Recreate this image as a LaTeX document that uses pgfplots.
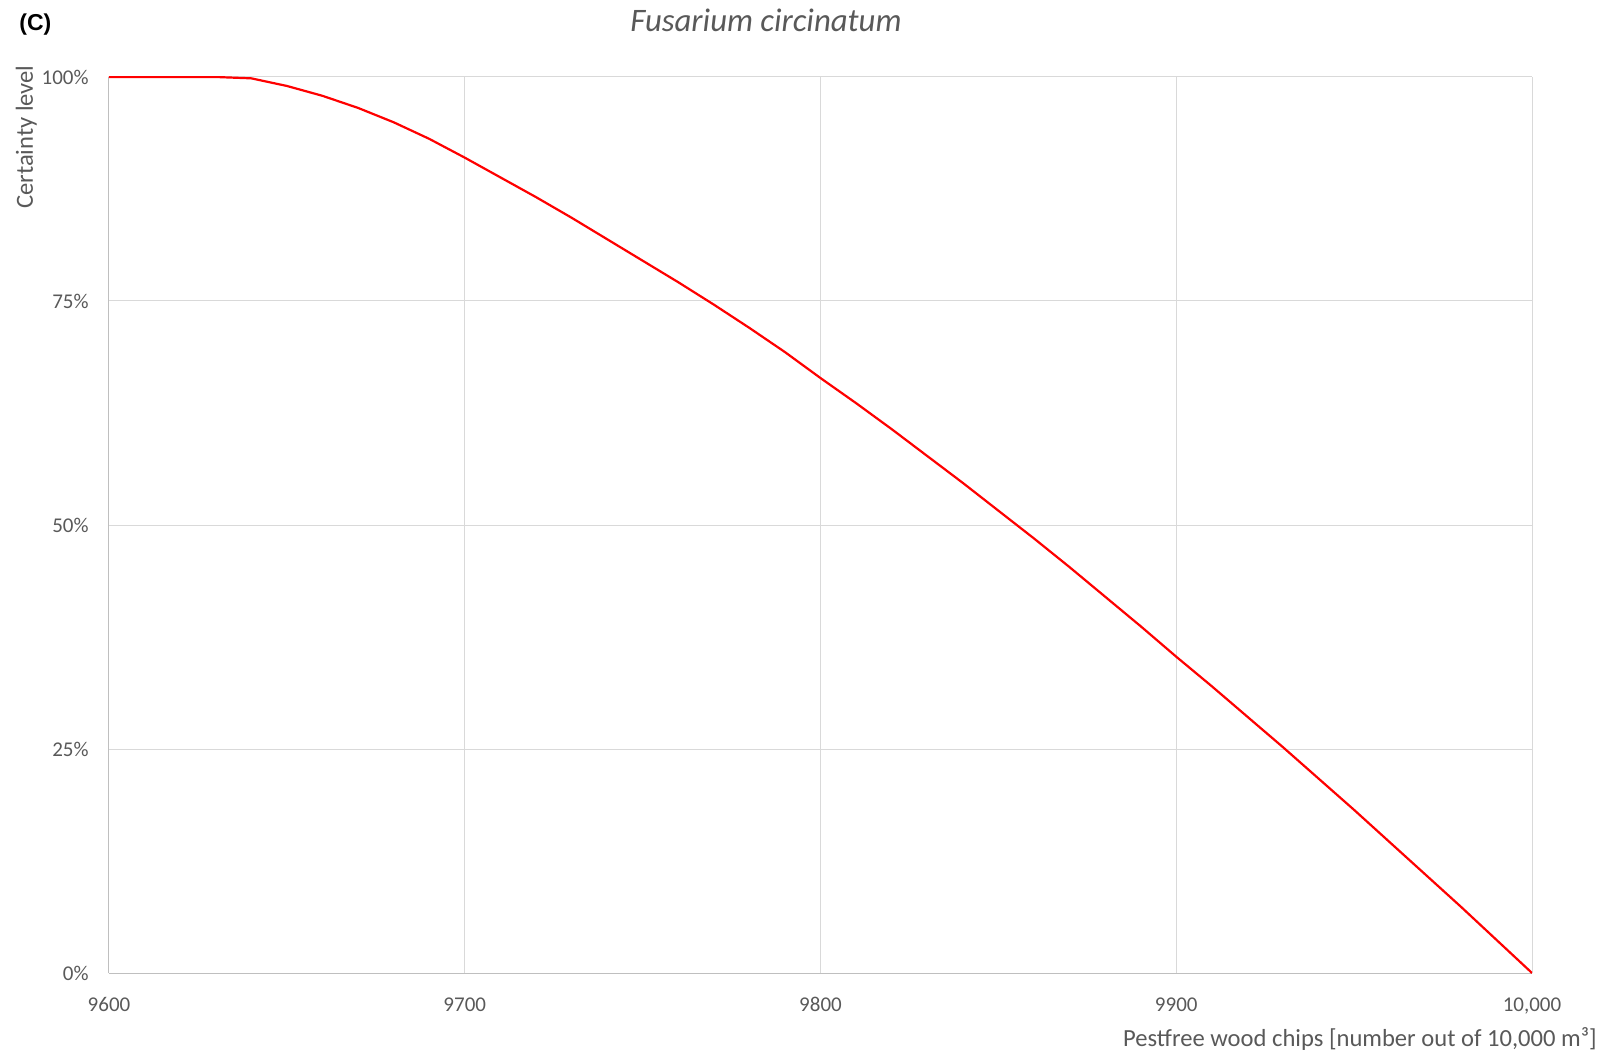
\documentclass[border=0pt]{standalone}
\usepackage{pgfplots}
\pgfplotsset{compat=1.18}
\usepackage{fontspec}
\setmainfont{Carlito}
\newfontfamily\arialfont{Liberation Sans}
\definecolor{txtgray}{HTML}{595959}
\definecolor{gridgray}{HTML}{D9D9D9}
\definecolor{axisgray}{HTML}{BFBFBF}
\definecolor{curvered}{HTML}{FF0000}
\begin{document}
\begin{tikzpicture}
\path (0,0) rectangle (805pt,528pt);
\begin{axis}[
  at={(54.5pt,41.5pt)}, anchor=south west,
  scale only axis, width=711.5pt, height=448pt,
  xmin=9600, xmax=10000, ymin=0, ymax=100,
  scaled x ticks=false, scaled y ticks=false,
  xtick={9600,9700,9800,9900,10000},
  xticklabels={9600,9700,9800,9900,{10,000}},
  ytick={0,25,50,75,100},
  yticklabels={0\%,25\%,50\%,75\%,100\%},
  grid=major, grid style={draw=gridgray, line width=0.5pt},
  axis x line*=bottom, axis y line*=left,
  axis line style={-, draw=axisgray, line width=0.5pt},
  major tick length=0pt,
  ticklabel style={font=\fontsize{10.5}{12}\selectfont, text=txtgray, inner sep=0pt},
  xticklabel style={anchor=base, yshift=-19pt},
  yticklabel style={anchor=east, xshift=-10pt},
]
\addplot[curvered, line width=1.1pt, line join=round] table {
x y
9600 100
9610 100
9620 100
9630 100
9640 99.85
9650 99.0
9660 97.9
9670 96.55
9680 94.95
9690 93.1
9700 91.0
9710 88.8
9720 86.6
9730 84.3
9740 81.9
9750 79.5
9760 77.1
9770 74.6
9780 72.0
9790 69.3
9800 66.4
9810 63.6
9820 60.7
9830 57.7
9840 54.7
9850 51.6
9860 48.5
9870 45.3
9880 42.0
9890 38.7
9900 35.3
9910 32.0
9920 28.6
9930 25.2
9940 21.7
9950 18.2
9960 14.6
9970 11.0
9980 7.4
9990 3.7
10000 0
};
\end{axis}
\node[anchor=base, inner sep=0pt, text=txtgray, font=\fontsize{16.4}{19}\selectfont\itshape] at (383pt,512pt) {Fusarium circinatum};
\node[anchor=base west, inner sep=0pt, font=\arialfont\bfseries\fontsize{11.5}{14}\selectfont] at (9.5pt,512.5pt) {(C)};
\node[rotate=90, anchor=base east, inner sep=0pt, text=txtgray, font=\fontsize{12.3}{15}\selectfont] at (16.5pt,495.5pt) {Certainty level};
\node[anchor=base east, inner sep=0pt, text=txtgray, font=\fontsize{12.3}{15}\selectfont] at (798.5pt,5pt) {Pestfree wood chips [number out of 10,000 m³]};
\end{tikzpicture}
\end{document}
